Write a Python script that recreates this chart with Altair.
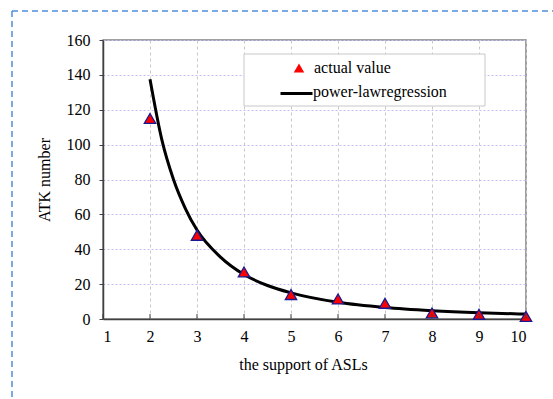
import altair as alt
import pandas as pd

# actual values
x_actual = [2, 3, 4, 5, 6, 7, 8, 9, 10]
y_actual = [115, 48, 27, 14, 11.5, 9, 3.5, 2.7, 1.5]

# power-law regression curve
x_fit = [2, 2.25, 2.5, 2.75, 3, 3.5, 4, 4.5, 5, 6, 7, 8, 9, 10]
y_fit = [137.5, 103, 80, 63.5, 51, 35.5, 25.5, 19.2, 15, 9.6, 6.6, 4.8, 3.6, 2.8]

series_names = ["actual value", "power-lawregression"]
x_ticks = [1, 2, 3, 4, 5, 6, 7, 8, 9, 10]
y_ticks = [0, 20, 40, 60, 80, 100, 120, 140, 160]

df_act = pd.DataFrame({"x": x_actual, "y": y_actual, "series": series_names[0]})
df_fit = pd.DataFrame({"x": x_fit, "y": y_fit, "series": series_names[1]})
df_ticks = pd.DataFrame({"x": x_ticks})

W, H = 423, 279
FONT = "Liberation Serif"
FS = 16

xscale = alt.Scale(domain=[1, 10], nice=False, zero=False)
yscale = alt.Scale(domain=[0, 160], nice=False)

xaxis = alt.Axis(values=x_ticks, tickCount=20, format="d", grid=True, gridDash=[3, 3], gridColor="#c8c8c8",
                 tickSize=0, labelPadding=9, labelOverlap=False,
                 domainColor="#404040", domainWidth=1.5,
                 labelFont=FONT, labelFontSize=FS, labelColor="black",
                 title="the support of ASLs", titleFont=FONT, titleFontSize=FS,
                 titleFontWeight="normal", titleColor="black", titlePadding=12,
                 titleX=200, titleAlign="center")
yaxis = alt.Axis(values=y_ticks, tickCount=20, format="d", grid=True, gridDash=[2, 2], gridColor="#c0c0f4",
                 tickSize=4, tickColor="#404040", labelPadding=9, labelOverlap=False,
                 domainColor="#404040", domainWidth=1.5,
                 labelFont=FONT, labelFontSize=FS, labelColor="black",
                 title="ATK number", titleFont=FONT, titleFontSize=FS,
                 titleFontWeight="normal", titleColor="black", titlePadding=14)

leg_pt = alt.Legend(title=None, orient="none", legendX=188, legendY=20, padding=0,
                    labelOpacity=0, labelFontSize=FS,
                    labelOffset=6, symbolSize=110, symbolFillColor="#ff0000",
                    symbolStrokeColor="#1a1a90", symbolStrokeWidth=1.3,
                    symbolType="triangle-up")
leg_ln = alt.Legend(title=None, orient="none", legendX=176, legendY=36, padding=0,
                    labelOpacity=0, labelFontSize=FS,
                    labelOffset=1, symbolSize=1024, symbolStrokeWidth=3,
                    symbolType="stroke")

# legend box (decoration)
box = alt.Chart(pd.DataFrame({"a": [0]})).mark_rect(fill="white", stroke="#c8c8c8", strokeWidth=1).encode(
    x=alt.value(141), x2=alt.value(382), y=alt.value(14), y2=alt.value(66))

# legend labels as serif text
lab_pt = alt.Chart(pd.DataFrame({"t": [series_names[0]]})).mark_text(
    font=FONT, fontSize=FS, align="left", baseline="middle", color="black").encode(
    text="t:N", x=alt.value(211), y=alt.value(28))
lab_ln = alt.Chart(pd.DataFrame({"t": [series_names[1]]})).mark_text(
    font=FONT, fontSize=FS, align="left", baseline="middle", color="black").encode(
    text="t:N", x=alt.value(210), y=alt.value(52))

line = alt.Chart(df_fit).mark_line(interpolate="monotone", strokeWidth=3).encode(
    x=alt.X("x:Q", scale=xscale, axis=xaxis),
    y=alt.Y("y:Q", scale=yscale, axis=yaxis),
    stroke=alt.Stroke("series:N", scale=alt.Scale(domain=[series_names[1]], range=["black"]), legend=leg_ln),
)

points = alt.Chart(df_act).mark_point(filled=True, fill="#ff0000", stroke="#1a1a90",
                                      strokeWidth=1.3, size=130, opacity=1).encode(
    x=alt.X("x:Q", scale=xscale),
    y=alt.Y("y:Q", scale=yscale),
    shape=alt.Shape("series:N", scale=alt.Scale(domain=[series_names[0]], range=["triangle-up"]), legend=leg_pt),
)

xticks = alt.Chart(df_ticks).mark_rule(color="#404040", strokeWidth=1).encode(
    x=alt.X("x:Q", scale=xscale), y=alt.value(H), y2=alt.value(H - 5))

d = pd.DataFrame({"a": [0]})
border_left = alt.Chart(d).mark_rule(color="#4f8fd8", strokeWidth=1.5, strokeDash=[6, 4]).encode(
    x=alt.value(-91), y=alt.value(-29), y2=alt.value(360))
border_top = alt.Chart(d).mark_rule(color="#4f8fd8", strokeWidth=1.5, strokeDash=[6, 4]).encode(
    x=alt.value(-91), x2=alt.value(452), y=alt.value(-29))

chart = alt.layer(box, line, points, xticks, lab_pt, lab_ln, border_left, border_top).resolve_scale(
    stroke="independent", shape="independent"
).properties(
    width=W, height=H,
    autosize=alt.AutoSizeParams(type="none"),
    padding={"left": 103, "top": 40, "right": 27, "bottom": 80},
    background="white",
).configure(font=FONT).configure_view(stroke="#808080", strokeWidth=1.5)

chart.save("out.html", embed_options={"renderer": "svg", "actions": False})
